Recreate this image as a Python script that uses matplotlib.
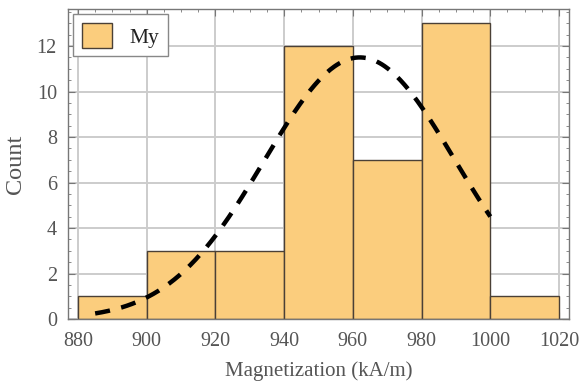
import numpy as np
import matplotlib
matplotlib.use("Agg")
import matplotlib.pyplot as plt
from matplotlib.patches import Patch
from matplotlib.ticker import MultipleLocator

# Histogram data
bin_edges = [880, 900, 920, 940, 960, 980, 1000, 1020]
counts = [1, 3, 3, 12, 7, 13, 1]

# Fitted normal curve parameters
fit_mean = 962.0
fit_sigma = 27.75
fit_range = [885, 1000]

x_ticks = [880, 900, 920, 940, 960, 980, 1000, 1020]
y_ticks = [0, 2, 4, 6, 8, 10, 12]

plt.rcParams['font.family'] = ['Liberation Serif', 'DejaVu Serif']

fig = plt.figure(figsize=(5.81, 3.85), dpi=100)
ax = fig.add_axes([68/581, 66/385, (569-68)/581, (319-9)/385])

edges = np.array(bin_edges, dtype=float)
widths = np.diff(edges)
ax.bar(edges[:-1], counts, width=widths, align='edge', color='#FBCD7D',
       edgecolor='#4a4036', linewidth=1.0, zorder=2, label='My')

n_total = sum(counts)
bw = widths[0]
xs = np.linspace(fit_range[0], fit_range[1], 300)
ys = n_total * bw / (fit_sigma * np.sqrt(2 * np.pi)) * np.exp(-0.5 * ((xs - fit_mean) / fit_sigma) ** 2)
ax.plot(xs, ys, color='black', linestyle=(0, (3.4, 2.6)), linewidth=3.2, zorder=3)

ax.set_xlim(877.1, 1022.9)
ax.set_ylim(0, 13.63)
ax.set_xticks(x_ticks)
ax.set_yticks(y_ticks)
ax.xaxis.set_minor_locator(MultipleLocator(5))
ax.yaxis.set_minor_locator(MultipleLocator(0.5))
ax.grid(True, which='major', color='#cccccc', linewidth=1.4, zorder=0)
ax.set_axisbelow(True)

for s in ax.spines.values():
    s.set_color('#777777')
    s.set_linewidth(1.0)

ax.tick_params(which='both', direction='in', top=True, right=True, colors='#777777',
               labelcolor='#555555', labelsize=14.5)
ax.tick_params(which='major', length=5)
ax.tick_params(which='minor', length=2.5)
ax.tick_params(axis='x', pad=9)
ax.tick_params(axis='y', pad=8)

ax.set_xlabel('Magnetization (kA/m)', fontsize=15, color='#555555', labelpad=8)
ax.set_ylabel('Count', fontsize=17.5, color='#555555', labelpad=8)

handle = Patch(facecolor='#FBCD7D', edgecolor='#4a4036', linewidth=1.0)
leg = ax.legend([handle], ['My'], loc='upper left', fontsize=15.5, frameon=True,
                fancybox=False, edgecolor='#888888', framealpha=1,
                borderaxespad=0.25, handlelength=1.4, handleheight=1.4,
                borderpad=0.4, handletextpad=0.8)
leg.get_frame().set_linewidth(1.0)
for t in leg.get_texts():
    t.set_color('#222222')

fig.savefig('out.png', dpi=100)
